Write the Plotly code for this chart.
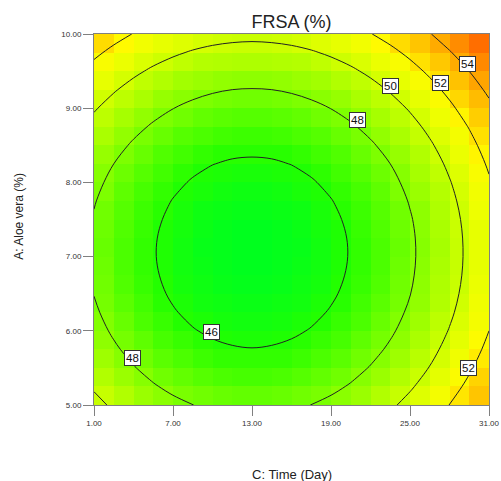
import plotly.graph_objects as go

# ---- heatmap cells (cell centres) ----
cell_time = [1.75, 3.25, 4.75, 6.25, 7.75, 9.25, 10.75, 12.25, 13.75, 15.25,
             16.75, 18.25, 19.75, 21.25, 22.75, 24.25, 25.75, 27.25, 28.75, 30.25]
cell_aloe = [5.125, 5.375, 5.625, 5.875, 6.125, 6.375, 6.625, 6.875, 7.125, 7.375,
             7.625, 7.875, 8.125, 8.375, 8.625, 8.875, 9.125, 9.375, 9.625, 9.875]
frsa_cells = [
    [49.8, 49.2, 48.6, 48.2, 47.8, 47.6, 47.4, 47.3, 47.3, 47.4, 47.6, 47.8, 48.2, 48.6, 49.2, 49.8, 50.5, 51.3, 52.2, 53.1],
    [49.2, 48.6, 48.1, 47.6, 47.3, 47.0, 46.8, 46.7, 46.7, 46.8, 47.0, 47.3, 47.6, 48.1, 48.6, 49.2, 49.9, 50.7, 51.6, 52.6],
    [48.7, 48.1, 47.6, 47.1, 46.8, 46.5, 46.3, 46.3, 46.3, 46.3, 46.5, 46.8, 47.1, 47.6, 48.1, 48.7, 49.4, 50.2, 51.1, 52.1],
    [48.3, 47.7, 47.2, 46.7, 46.4, 46.1, 45.9, 45.8, 45.8, 45.9, 46.1, 46.4, 46.7, 47.2, 47.7, 48.3, 49.0, 49.8, 50.7, 51.7],
    [48.0, 47.4, 46.8, 46.4, 46.0, 45.8, 45.6, 45.5, 45.5, 45.6, 45.8, 46.0, 46.4, 46.8, 47.4, 48.0, 48.7, 49.5, 50.4, 51.3],
    [47.7, 47.1, 46.6, 46.1, 45.8, 45.5, 45.4, 45.3, 45.3, 45.4, 45.5, 45.8, 46.1, 46.6, 47.1, 47.7, 48.4, 49.2, 50.1, 51.1],
    [47.6, 46.9, 46.4, 46.0, 45.6, 45.4, 45.2, 45.1, 45.1, 45.2, 45.4, 45.6, 46.0, 46.4, 46.9, 47.6, 48.3, 49.1, 49.9, 50.9],
    [47.5, 46.8, 46.3, 45.9, 45.5, 45.3, 45.1, 45.0, 45.0, 45.1, 45.3, 45.5, 45.9, 46.3, 46.8, 47.5, 48.2, 49.0, 49.8, 50.8],
    [47.4, 46.8, 46.3, 45.9, 45.5, 45.2, 45.1, 45.0, 45.0, 45.1, 45.2, 45.5, 45.9, 46.3, 46.8, 47.4, 48.1, 48.9, 49.8, 50.8],
    [47.5, 46.9, 46.4, 45.9, 45.6, 45.3, 45.1, 45.0, 45.0, 45.1, 45.3, 45.6, 45.9, 46.4, 46.9, 47.5, 48.2, 49.0, 49.9, 50.8],
    [47.6, 47.0, 46.5, 46.1, 45.7, 45.4, 45.3, 45.2, 45.2, 45.3, 45.4, 45.7, 46.1, 46.5, 47.0, 47.6, 48.3, 49.1, 50.0, 51.0],
    [47.9, 47.2, 46.7, 46.3, 45.9, 45.7, 45.5, 45.4, 45.4, 45.5, 45.7, 45.9, 46.3, 46.7, 47.2, 47.9, 48.6, 49.3, 50.2, 51.2],
    [48.1, 47.5, 47.0, 46.6, 46.2, 45.9, 45.8, 45.7, 45.7, 45.8, 45.9, 46.2, 46.6, 47.0, 47.5, 48.1, 48.9, 49.6, 50.5, 51.5],
    [48.5, 47.9, 47.4, 46.9, 46.6, 46.3, 46.1, 46.1, 46.1, 46.1, 46.3, 46.6, 46.9, 47.4, 47.9, 48.5, 49.2, 50.0, 50.9, 51.9],
    [49.0, 48.4, 47.8, 47.4, 47.0, 46.8, 46.6, 46.5, 46.5, 46.6, 46.8, 47.0, 47.4, 47.8, 48.4, 49.0, 49.7, 50.5, 51.3, 52.3],
    [49.5, 48.9, 48.4, 47.9, 47.6, 47.3, 47.1, 47.0, 47.0, 47.1, 47.3, 47.6, 47.9, 48.4, 48.9, 49.5, 50.2, 51.0, 51.9, 52.8],
    [50.1, 49.5, 49.0, 48.5, 48.2, 47.9, 47.7, 47.6, 47.6, 47.7, 47.9, 48.2, 48.5, 49.0, 49.5, 50.1, 50.8, 51.6, 52.5, 53.4],
    [50.8, 50.2, 49.6, 49.2, 48.8, 48.6, 48.4, 48.3, 48.3, 48.4, 48.6, 48.8, 49.2, 49.6, 50.2, 50.8, 51.5, 52.3, 53.2, 54.1],
    [51.5, 50.9, 50.4, 50.0, 49.6, 49.3, 49.2, 49.1, 49.1, 49.2, 49.3, 49.6, 50.0, 50.4, 50.9, 51.5, 52.3, 53.0, 53.9, 54.9],
    [52.4, 51.8, 51.2, 50.8, 50.5, 50.2, 50.0, 49.9, 49.9, 50.0, 50.2, 50.5, 50.8, 51.2, 51.8, 52.4, 53.1, 53.9, 54.8, 55.7],
]

# ---- contour grid ----
grid_time = [1, 2.5, 4, 5.5, 7, 8.5, 10, 11.5, 13, 14.5, 16, 17.5, 19, 20.5, 22,
             23.5, 25, 26.5, 28, 29.5, 31]
grid_aloe = [5.0, 5.25, 5.5, 5.75, 6.0, 6.25, 6.5, 6.75, 7.0, 7.25, 7.5, 7.75,
             8.0, 8.25, 8.5, 8.75, 9.0, 9.25, 9.5, 9.75, 10.0]
frsa_grid = [
    [50.43, 49.77, 49.20, 48.71, 48.32, 48.01, 47.79, 47.66, 47.61, 47.66, 47.79, 48.01, 48.32, 48.71, 49.20, 49.77, 50.43, 51.18, 52.02, 52.94, 53.95],
    [49.83, 49.17, 48.59, 48.11, 47.71, 47.40, 47.18, 47.05, 47.01, 47.05, 47.18, 47.40, 47.71, 48.11, 48.59, 49.17, 49.83, 50.58, 51.41, 52.34, 53.35],
    [49.30, 48.64, 48.07, 47.58, 47.19, 46.88, 46.66, 46.53, 46.48, 46.53, 46.66, 46.88, 47.19, 47.58, 48.07, 48.64, 49.30, 50.05, 50.88, 51.81, 52.82],
    [48.85, 48.19, 47.62, 47.13, 46.74, 46.43, 46.21, 46.08, 46.03, 46.08, 46.21, 46.43, 46.74, 47.13, 47.62, 48.19, 48.85, 49.60, 50.44, 51.36, 52.37],
    [48.48, 47.82, 47.25, 46.76, 46.37, 46.06, 45.84, 45.71, 45.66, 45.71, 45.84, 46.06, 46.37, 46.76, 47.25, 47.82, 48.48, 49.23, 50.07, 50.99, 52.00],
    [48.19, 47.53, 46.96, 46.47, 46.08, 45.77, 45.55, 45.41, 45.37, 45.41, 45.55, 45.77, 46.08, 46.47, 46.96, 47.53, 48.19, 48.94, 49.77, 50.70, 51.71],
    [47.97, 47.31, 46.74, 46.26, 45.86, 45.55, 45.33, 45.20, 45.16, 45.20, 45.33, 45.55, 45.86, 46.26, 46.74, 47.31, 47.97, 48.72, 49.56, 50.48, 51.50],
    [47.84, 47.18, 46.61, 46.12, 45.73, 45.42, 45.20, 45.06, 45.02, 45.06, 45.20, 45.42, 45.73, 46.12, 46.61, 47.18, 47.84, 48.59, 49.42, 50.35, 51.36],
    [47.78, 47.12, 46.55, 46.06, 45.67, 45.36, 45.14, 45.01, 44.96, 45.01, 45.14, 45.36, 45.67, 46.06, 46.55, 47.12, 47.78, 48.53, 49.37, 50.29, 51.30],
    [47.80, 47.14, 46.57, 46.08, 45.69, 45.38, 45.16, 45.03, 44.98, 45.03, 45.16, 45.38, 45.69, 46.08, 46.57, 47.14, 47.80, 48.55, 49.39, 50.31, 51.32],
    [47.90, 47.24, 46.67, 46.18, 45.79, 45.48, 45.26, 45.13, 45.08, 45.13, 45.26, 45.48, 45.79, 46.18, 46.67, 47.24, 47.90, 48.65, 49.48, 50.41, 51.42],
    [48.08, 47.42, 46.84, 46.36, 45.96, 45.65, 45.43, 45.30, 45.26, 45.30, 45.43, 45.65, 45.96, 46.36, 46.84, 47.42, 48.08, 48.83, 49.66, 50.59, 51.60],
    [48.33, 47.67, 47.10, 46.61, 46.22, 45.91, 45.69, 45.56, 45.51, 45.56, 45.69, 45.91, 46.22, 46.61, 47.10, 47.67, 48.33, 49.08, 49.92, 50.84, 51.85],
    [48.66, 48.00, 47.43, 46.95, 46.55, 46.24, 46.02, 45.89, 45.85, 45.89, 46.02, 46.24, 46.55, 46.95, 47.43, 48.00, 48.66, 49.41, 50.25, 51.17, 52.19],
    [49.07, 48.41, 47.84, 47.36, 46.96, 46.65, 46.43, 46.30, 46.26, 46.30, 46.43, 46.65, 46.96, 47.36, 47.84, 48.41, 49.07, 49.82, 50.66, 51.58, 52.60],
    [49.56, 48.90, 48.33, 47.85, 47.45, 47.14, 46.92, 46.79, 46.75, 46.79, 46.92, 47.14, 47.45, 47.85, 48.33, 48.90, 49.56, 50.31, 51.15, 52.07, 53.09],
    [50.13, 49.47, 48.90, 48.41, 48.02, 47.71, 47.49, 47.36, 47.31, 47.36, 47.49, 47.71, 48.02, 48.41, 48.90, 49.47, 50.13, 50.88, 51.72, 52.64, 53.65],
    [50.78, 50.12, 49.54, 49.06, 48.66, 48.35, 48.13, 48.00, 47.96, 48.00, 48.13, 48.35, 48.66, 49.06, 49.54, 50.12, 50.78, 51.53, 52.36, 53.29, 54.30],
    [51.50, 50.84, 50.27, 49.78, 49.39, 49.08, 48.86, 48.73, 48.68, 48.73, 48.86, 49.08, 49.39, 49.78, 50.27, 50.84, 51.50, 52.25, 53.08, 54.01, 55.02],
    [52.30, 51.64, 51.07, 50.58, 50.19, 49.88, 49.66, 49.53, 49.48, 49.53, 49.66, 49.88, 50.19, 50.58, 51.07, 51.64, 52.30, 53.05, 53.89, 54.81, 55.82],
    [53.18, 52.52, 51.95, 51.46, 51.07, 50.76, 50.54, 50.41, 50.36, 50.41, 50.54, 50.76, 51.07, 51.46, 51.95, 52.52, 53.18, 53.93, 54.77, 55.69, 56.70],
]

# ---- contour labels ----
label_time = [29.4, 27.35, 23.5, 21.05, 9.95, 3.95, 29.45]
label_aloe = [9.60, 9.34, 9.30, 8.84, 5.98, 5.63, 5.50]
label_text = ["54", "52", "50", "48", "46", "48", "52"]

time_ticks = [1, 7, 13, 19, 25, 31]
aloe_ticks = [5, 6, 7, 8, 9, 10]

# colour stops (value -> colour)
zmin, zmax = 45.0, 55.7
stops = [(45.0, "rgb(0,255,30)"), (46.0, "rgb(35,255,0)"), (47.0, "rgb(85,255,0)"),
         (48.0, "rgb(130,255,0)"), (49.0, "rgb(170,255,0)"), (50.0, "rgb(205,255,0)"),
         (51.0, "rgb(238,255,0)"), (51.8, "rgb(255,250,0)"), (52.5, "rgb(255,215,0)"),
         (53.5, "rgb(255,185,0)"), (54.5, "rgb(255,150,0)"), (55.7, "rgb(255,110,0)")]
colorscale = [[(v - zmin) / (zmax - zmin), c] for v, c in stops]

font_fam = "Arial, Liberation Sans, sans-serif"

fig = go.Figure()
fig.add_trace(go.Heatmap(x=cell_time, y=cell_aloe, z=frsa_cells, zmin=zmin, zmax=zmax,
                         colorscale=colorscale, showscale=False, hoverinfo="skip"))
fig.add_trace(go.Contour(x=grid_time, y=grid_aloe, z=frsa_grid,
                         contours=dict(start=46, end=54, size=2, coloring="none"),
                         line=dict(color="#222222", width=1, smoothing=1),
                         showscale=False, hoverinfo="skip"))

for t, a, s in zip(label_time, label_aloe, label_text):
    fig.add_annotation(x=t, y=a, xref="x", yref="y", text=s, showarrow=False,
                       font=dict(family=font_fam, size=11.5, color="#111"),
                       bgcolor="white", bordercolor="#333", borderwidth=1, borderpad=1)

fig.add_annotation(x=0.5, y=-0.186, xref="paper", yref="paper", text="C: Time (Day)",
                   showarrow=False, font=dict(family=font_fam, size=13, color="#222"),
                   xanchor="center", yanchor="middle")
fig.add_annotation(x=-0.19, y=0.51, xref="paper", yref="paper", text="A: Aloe vera (%)",
                   showarrow=False, textangle=-90,
                   font=dict(family=font_fam, size=12, color="#222"),
                   xanchor="center", yanchor="middle")

axis_common = dict(showline=True, linecolor="#808080", linewidth=1, mirror=True,
                   ticks="outside", ticklen=10, tickcolor="#808080", tickwidth=1,
                   showgrid=False, zeroline=False, tickformat=".2f", automargin=False,
                   tickfont=dict(family=font_fam, size=8, color="#333"))

fig.update_layout(
    width=501, height=481,
    margin=dict(l=94, r=12, t=34, b=76),
    paper_bgcolor="white", plot_bgcolor="white",
    title=dict(text="FRSA (%)", x=0.5, xref="paper", xanchor="center",
               y=1 - 22 / 481, yref="container", yanchor="middle",
               font=dict(family=font_fam, size=18, color="#222")),
    xaxis=dict(range=[1, 31], tickvals=time_ticks, **axis_common),
    yaxis=dict(range=[5, 10], tickvals=aloe_ticks, **axis_common),
    showlegend=False,
)

fig.write_html(
    "out.html",
    config={"responsive": False, "displayModeBar": False},
    post_script="document.body.style.margin='0';document.body.style.overflow='hidden';",
)
